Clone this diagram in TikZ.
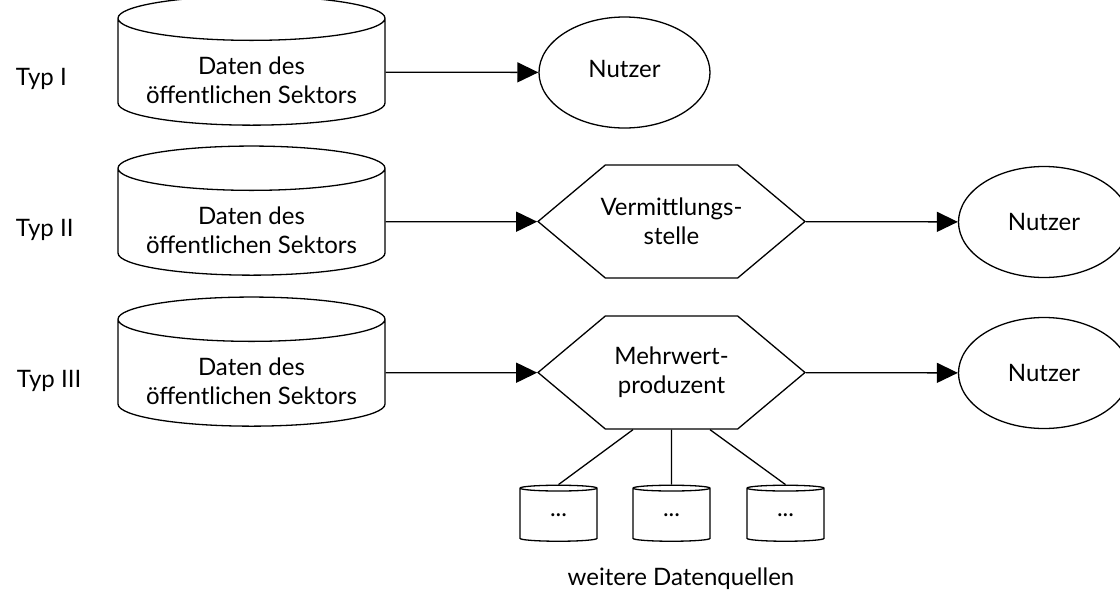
\documentclass[tikz,border=0pt]{standalone}
\usepackage{fontspec}
\setmainfont{Lato}
\usetikzlibrary{arrows.meta, positioning, shapes.geometric, shapes.symbols}

\begin{document}
\begin{tikzpicture}[
  x=1pt, y=-1pt, line width=1.3pt,
  every node/.style={font=\fontsize{24}{29}\selectfont},
  store/.style={draw, cylinder, shape border rotate=90, aspect=0.21, minimum width=267pt, minimum height=112pt, align=center, inner sep=0pt, text height=62pt, text depth=0pt},
  minstore/.style={draw, cylinder, shape border rotate=90, aspect=0.34, minimum width=77pt, minimum height=56pt, inner sep=0pt},
  agent/.style={draw, signal, signal to=west and east, signal pointer angle=80, minimum width=267pt, minimum height=113pt, align=center, inner xsep=-20pt, inner ysep=0pt},
  user/.style={draw, ellipse, minimum width=171pt, minimum height=111pt, inner sep=0pt},
  >={Triangle[length=21pt, width=20pt]}
]
\useasboundingbox (0,0) rectangle (1120,590);

% Typ I
\node[anchor=base west] (t1) at (12,85) {Typ I};
\node[store] (src1)  at (251.5,72)  {Daten des\\öffentlichen Sektors};
\node[user, text depth=7pt] (user1) at (624.5,72.5) {Nutzer};

% Typ II
\node[anchor=base west] (t2) at (12,236) {Typ II};
\node[store] (src2)  at (251.5,222) {Daten des\\öffentlichen Sektors};
\node[agent] (mid2)  at (671.5,221.5) {Vermittlungs-\\stelle};
\node[user]  (user2) at (1044,222)  {Nutzer};

% Typ III
\node[anchor=base west] (t3) at (13,387) {Typ III};
\node[store] (src3)  at (251.5,373) {Daten des\\öffentlichen Sektors};
\node[agent] (mid3)  at (671.5,372.5) {Mehrwert-\\produzent};
\node[user]  (user3) at (1044,373)  {Nutzer};

% weitere Quellen
\node[minstore] (ext1) at (558.5,515) {...};
\node[minstore] (ext2) at (671.5,515) {...};
\node[minstore] (ext3) at (785.5,515) {...};
\node[anchor=base] (extlbl) at (681,585) {weitere Datenquellen};

\draw[->] (src1) -- (user1);
\draw[->] (src2) -- (mid2);
\draw[->] (mid2) -- (user2);
\draw[->] (src3) -- (mid3);
\draw[->] (mid3) -- (user3);

\draw ([xshift=-38.5pt]mid3.south) -- (ext1.north);
\draw (mid3.south) -- (ext2.north);
\draw ([xshift=38.5pt]mid3.south) -- (ext3.north);
\end{tikzpicture}
\end{document}
